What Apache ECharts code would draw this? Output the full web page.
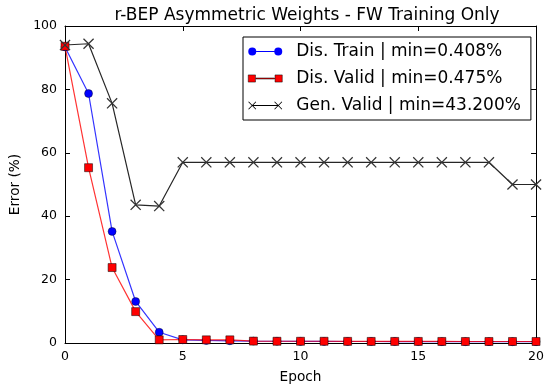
<!DOCTYPE html>
<html><head><meta charset="utf-8">
<script src="https://cdn.jsdelivr.net/npm/echarts@6/dist/echarts.min.js"></script>
<style>html,body{margin:0;padding:0;background:#fff}#c{width:547px;height:391px}</style>
</head><body><div id="c"></div>
<script>
const epochs = [0,1,2,3,4,5,6,7,8,9,10,11,12,13,14,15,16,17,18,19,20];
const disTrain = [93.4,78.7,35.2,13.1,3.4,1.0,0.8,0.7,0.6,0.55,0.5,0.5,0.48,0.47,0.45,0.44,0.43,0.42,0.42,0.41,0.408];
const disValid = [93.6,55.3,23.8,9.9,1.0,1.1,1.0,1.0,0.6,0.55,0.55,0.55,0.52,0.5,0.5,0.5,0.49,0.48,0.48,0.48,0.475];
const genValid = [94.0,94.4,75.6,43.6,43.2,57.0,57.0,57.0,57.0,57.0,57.0,57.0,57.0,57.0,57.0,57.0,57.0,57.0,57.0,50.0,50.0];
const names = ['Dis. Train | min=0.408%','Dis. Valid | min=0.475%','Gen. Valid | min=43.200%'];
const xTicks = [0,5,10,15,20];
const yTicks = [0,20,40,60,80,100];

const font = 'DejaVu Sans';
const xMark = 'path://M0,0.8L0.8,0L5,4.2L9.2,0L10,0.8L5.8,5L10,9.2L9.2,10L5,5.8L0.8,10L0,9.2L4.2,5Z';
const iconCircle = 'path://M0,4a4,4 0 1,0 8,0a4,4 0 1,0 -8,0ZM8,3.5h18v1h-18ZM26,4a4,4 0 1,0 8,0a4,4 0 1,0 -8,0Z';
const iconSquare = 'path://M0.5,0.5h7v7h-7ZM8,3.5h18v1h-18ZM26.5,0.5h7v7h-7Z';
const iconX = 'path://M0,0.6L0.6,0L4,3.4L7.4,0L8,0.6L4.6,4L8,7.4L7.4,8L4,4.6L0.6,8L0,7.4L3.4,4ZM4,3.5H30V4.5H4ZM26,0.6L26.6,0L30,3.4L33.4,0L34,0.6L30.6,4L34,7.4L33.4,8L30,4.6L26.6,8L26,7.4L29.4,4Z';

const chart = echarts.init(document.getElementById('c'), null, {renderer:'canvas'});
const axisCommon = {
  type:'value', min:0, interval:5, max:20,
  axisLine:{show:true,onZero:false,lineStyle:{color:'#000',width:1}},
  axisTick:{show:true,inside:true,length:5,lineStyle:{color:'#000'}},
  splitLine:{show:false}
};
const yCommon = {
  type:'value', min:0, max:100, interval:20,
  axisLine:{show:true,onZero:false,lineStyle:{color:'#000',width:1}},
  axisTick:{show:true,inside:true,length:5,lineStyle:{color:'#000'}},
  splitLine:{show:false}
};
chart.setOption({
  animation:false,
  backgroundColor:'#fff',
  title:{text:'r-BEP Asymmetric Weights - FW Training Only',left:302,textAlign:'center',top:2,
    textStyle:{fontFamily:font,fontSize:17,fontWeight:'normal',color:'#000'}},
  grid:{left:65,right:7,top:26,bottom:48,containLabel:false},
  legend:{
    orient:'vertical', left:243, top:37,
    padding:[6,10,6,5], itemGap:10, itemWidth:34, itemHeight:8,
    borderColor:'#000', borderWidth:1, backgroundColor:'#fff',
    textStyle:{fontFamily:font,fontSize:17,lineHeight:17,color:'#000',padding:[0,0,0,9]},
    data:[
      {name:names[0],icon:iconCircle,itemStyle:{color:'#0000ff',borderWidth:0}},
      {name:names[1],icon:iconSquare,itemStyle:{color:'#ff0000',borderColor:'#000',borderWidth:0.5}},
      {name:names[2],icon:iconX,itemStyle:{color:'#000',borderWidth:0}}
    ]
  },
  xAxis:[
    Object.assign({}, axisCommon, {position:'bottom', name:'Epoch', nameLocation:'middle', nameGap:27,
      nameTextStyle:{fontFamily:font,fontSize:13.7,color:'#000'},
      axisLabel:{fontFamily:font,fontSize:12.5,color:'#000',margin:7,formatter:v=>xTicks.includes(v)?String(v):''}}),
    Object.assign({}, axisCommon, {position:'top', axisLabel:{show:false}})
  ],
  yAxis:[
    Object.assign({}, yCommon, {position:'left', name:'Error (%)', nameLocation:'middle', nameGap:41,
      nameTextStyle:{fontFamily:font,fontSize:13.7,color:'#000'},
      axisLabel:{fontFamily:font,fontSize:12.5,color:'#000',margin:8,formatter:v=>yTicks.includes(v)?String(v):''}}),
    Object.assign({}, yCommon, {position:'right', axisLabel:{show:false}})
  ],
  series:[
    {name:names[0],type:'line',data:epochs.map((e,i)=>[e,disTrain[i]]),
      symbol:'circle',symbolSize:8,showAllSymbol:true,clip:false,
      lineStyle:{color:'#0000ff',width:1.2,opacity:0.8},
      itemStyle:{color:'#0000ff',borderColor:'#000',borderWidth:0.4}},
    {name:names[1],type:'line',data:epochs.map((e,i)=>[e,disValid[i]]),
      symbol:'rect',symbolSize:8,showAllSymbol:true,clip:false,
      lineStyle:{color:'#ff0000',width:1.2,opacity:0.8},
      itemStyle:{color:'#ff0000',borderColor:'#000',borderWidth:0.5}},
    {name:names[2],type:'line',data:epochs.map((e,i)=>[e,genValid[i]]),
      symbol:xMark,symbolSize:11,showAllSymbol:true,clip:false,
      lineStyle:{color:'#000',width:1.2,opacity:0.85},
      itemStyle:{color:'#333',borderWidth:0}}
  ]
});
</script></body></html>
